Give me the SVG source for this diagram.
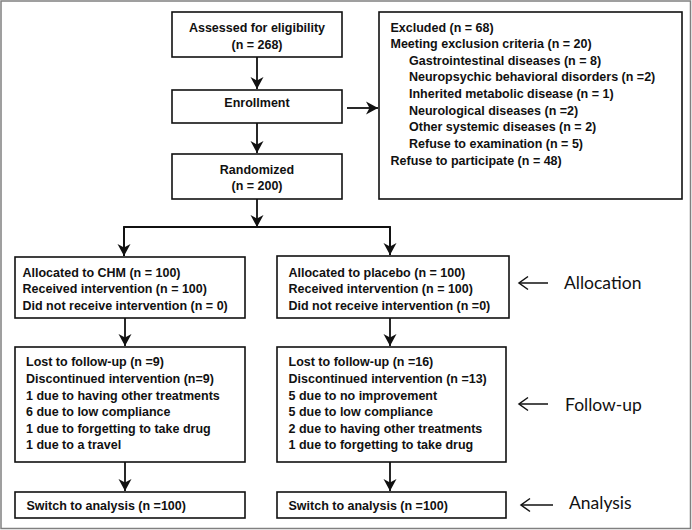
<svg xmlns="http://www.w3.org/2000/svg" width="692" height="530" viewBox="0 0 692 530">
<style>
.box{fill:#fff;stroke:#111;stroke-width:1.6}
.t{font-family:"Liberation Sans",Arial,sans-serif;font-weight:bold;font-size:12.5px;fill:#111}
.c{text-anchor:middle}
.side{font-family:Lato,"Open Sans",sans-serif;font-size:17.5px;fill:#111}
.ln{fill:none;stroke:#111;stroke-width:1.8}
.sl{fill:none;stroke:#111;stroke-width:1.5}
</style>
<defs>
<marker id="ah" markerUnits="userSpaceOnUse" viewBox="-13 -7 14 14" refX="0" refY="0" markerWidth="14" markerHeight="14" orient="auto">
<path d="M-12,-6.5 L0,0 L-12,6.5 L-8.5,0 z" fill="#111"/>
</marker>
<marker id="oh" markerUnits="userSpaceOnUse" viewBox="-10 -8 12 16" refX="0" refY="0" markerWidth="12" markerHeight="16" orient="auto">
<path d="M-9,-6.5 L0,0 L-9,6.5" fill="none" stroke="#111" stroke-width="1.5"/>
</marker>
</defs>
<rect x="0" y="0" width="692" height="530" fill="#fff"/>
<rect x="1" y="1" width="689.5" height="527.5" fill="none" stroke="#808080" stroke-width="1.5"/>

<g id="connectors">
<line class="ln" x1="257" y1="57" x2="257" y2="89" marker-end="url(#ah)"/>
<line class="ln" x1="257" y1="123" x2="257" y2="153" marker-end="url(#ah)"/>
<line class="ln" x1="257" y1="199" x2="257" y2="227" marker-end="url(#ah)"/>
<polyline class="ln" points="124,256 124,227 390,227 390,255"/>
<line class="ln" x1="124" y1="227" x2="124" y2="256" marker-end="url(#ah)"/>
<line class="ln" x1="390" y1="227" x2="390" y2="255" marker-end="url(#ah)"/>
<line class="ln" x1="347" y1="108" x2="378" y2="108" marker-end="url(#ah)"/>
<line class="ln" x1="125" y1="318" x2="125" y2="346" marker-end="url(#ah)"/>
<line class="ln" x1="390" y1="318" x2="390" y2="346" marker-end="url(#ah)"/>
<line class="ln" x1="125" y1="462" x2="125" y2="491" marker-end="url(#ah)"/>
<line class="ln" x1="390" y1="462" x2="390" y2="491" marker-end="url(#ah)"/>
<line class="sl" x1="548" y1="283" x2="519" y2="283" marker-end="url(#oh)"/>
<line class="sl" x1="548" y1="404" x2="519" y2="404" marker-end="url(#oh)"/>
<line class="sl" x1="553" y1="505" x2="521" y2="505" marker-end="url(#oh)"/>
</g>

<g id="assessed">
<rect class="box" x="172" y="12" width="170" height="45"/>
<text class="t c" x="257" y="31.5">Assessed for eligibility</text>
<text class="t c" x="257" y="48.5">(n = 268)</text>
</g>
<g id="enrollment">
<rect class="box" x="172" y="90" width="170" height="33"/>
<text class="t c" x="257" y="106.5">Enrollment</text>
</g>
<g id="randomized">
<rect class="box" x="172" y="154" width="170" height="45"/>
<text class="t c" x="257" y="173.5">Randomized</text>
<text class="t c" x="257" y="190">(n = 200)</text>
</g>
<g id="excluded">
<rect class="box" x="379" y="12" width="303" height="187"/>
<text class="t" x="390.5" y="31.5">Excluded (n = 68)</text>
<text class="t" x="390.5" y="48">Meeting exclusion criteria  (n = 20)</text>
<text class="t" x="409" y="64.5">Gastrointestinal diseases (n = 8)</text>
<text class="t" x="409" y="81">Neuropsychic behavioral disorders (n =2)</text>
<text class="t" x="409" y="97.5">Inherited metabolic disease (n = 1)</text>
<text class="t" x="409" y="114.5">Neurological diseases (n =2)</text>
<text class="t" x="409" y="131">Other systemic diseases (n = 2)</text>
<text class="t" x="409" y="147.5">Refuse to examination (n = 5)</text>
<text class="t" x="390.5" y="165">Refuse to participate (n = 48)</text>
</g>
<g id="alloc-chm">
<rect class="box" x="15" y="257" width="230" height="61"/>
<text class="t" x="22.5" y="276.5">Allocated to CHM (n = 100)</text>
<text class="t" x="22.5" y="293">Received intervention (n = 100)</text>
<text class="t" x="22.5" y="310">Did not receive intervention (n = 0)</text>
</g>
<g id="alloc-placebo">
<rect class="box" x="277" y="256" width="232" height="62"/>
<text class="t" x="288.5" y="276.5">Allocated to placebo (n = 100)</text>
<text class="t" x="288.5" y="293">Received intervention (n = 100)</text>
<text class="t" x="288.5" y="310">Did not receive intervention (n =0)</text>
</g>
<g id="followup-chm">
<rect class="box" x="15" y="347" width="230" height="115"/>
<text class="t" x="26" y="366">Lost to follow-up (n =9)</text>
<text class="t" x="26" y="383">Discontinued intervention (n=9)</text>
<text class="t" x="26" y="399.5">1 due to having other treatments</text>
<text class="t" x="26" y="416">6 due to low compliance</text>
<text class="t" x="26" y="432.5">1 due to forgetting to take drug</text>
<text class="t" x="26" y="449">1 due to a travel</text>
</g>
<g id="followup-placebo">
<rect class="box" x="277" y="347" width="229" height="115"/>
<text class="t" x="288.5" y="366">Lost to follow-up (n =16)</text>
<text class="t" x="288.5" y="383">Discontinued intervention (n =13)</text>
<text class="t" x="288.5" y="399.5">5 due to no improvement</text>
<text class="t" x="288.5" y="416">5 due to low compliance</text>
<text class="t" x="288.5" y="432.5">2 due to having other treatments</text>
<text class="t" x="288.5" y="449">1 due to forgetting to take drug</text>
</g>
<g id="analysis-chm">
<rect class="box" x="15" y="492" width="230" height="26"/>
<text class="t" x="26.5" y="509.5">Switch to analysis (n =100)</text>
</g>
<g id="analysis-placebo">
<rect class="box" x="277" y="492" width="229" height="26"/>
<text class="t" x="288.5" y="509.5">Switch to analysis (n =100)</text>
</g>
<g id="labels">
<text class="side" x="564" y="288.5">Allocation</text>
<text class="side" x="565" y="410.5">Follow-up</text>
<text class="side" x="569" y="508.5">Analysis</text>
</g>
</svg>
